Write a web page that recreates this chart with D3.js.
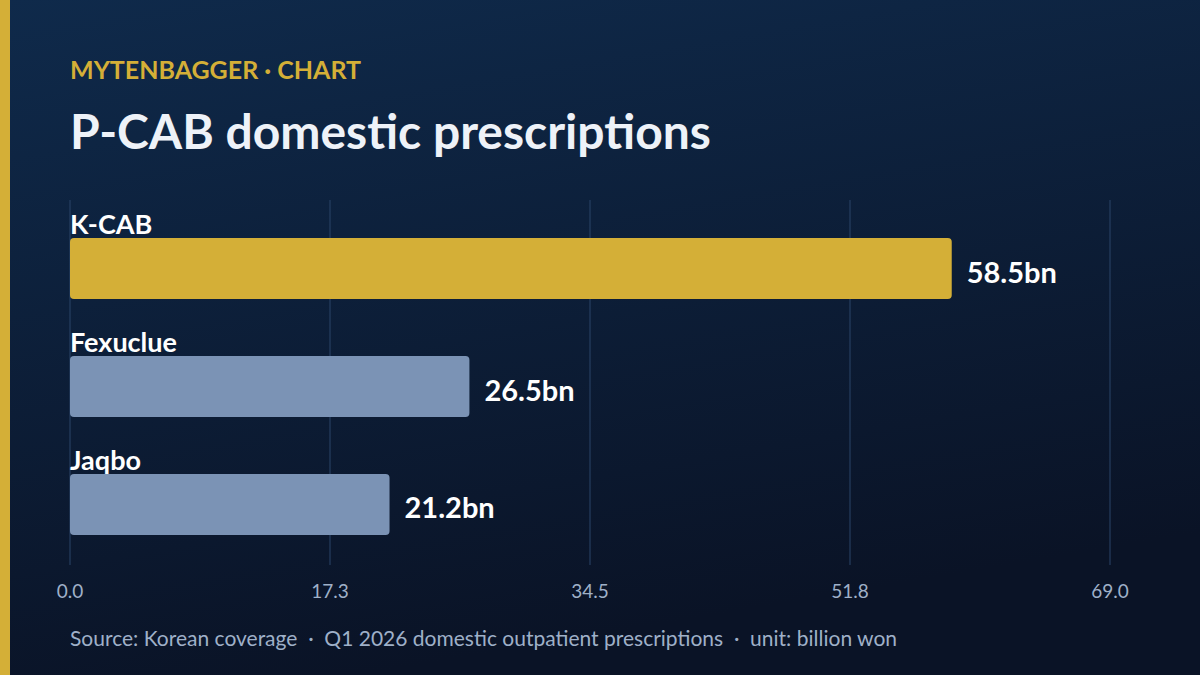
<!DOCTYPE html>
<html><head><meta charset="utf-8">
<script src="https://cdn.jsdelivr.net/npm/d3@7"></script>
<style>body{margin:0;}svg{display:block;font-family:"Source Sans Pro","Lato","Noto Sans",sans-serif;}</style>
</head><body>
<svg id="c" width="1200" height="675"></svg>
<script>
var categories = ['K-CAB', 'Fexuclue', 'Jaqbo'];
var values = [58.5, 26.5, 21.2];
var tickValues = [0, 17.25, 34.5, 51.75, 69];
var tickLabels = ['0.0', '17.3', '34.5', '51.8', '69.0'];

var svg = d3.select('#c');
var defs = svg.append('defs');
var grad = defs.append('linearGradient').attr('id', 'bg').attr('x1', 0).attr('y1', 0).attr('x2', 0.3).attr('y2', 1);
grad.append('stop').attr('offset', '0%').attr('stop-color', '#0f2a4b');
grad.append('stop').attr('offset', '100%').attr('stop-color', '#0a1326');
svg.append('rect').attr('width', 1200).attr('height', 675).attr('fill', 'url(#bg)');
svg.append('rect').attr('width', 10).attr('height', 675).attr('fill', '#d4af37');

svg.append('text').attr('x', 70).attr('y', 79).attr('fill', '#d4af37')
    .attr('font-size', 25).attr('font-weight', 700).text('MYTENBAGGER  ·  CHART');
svg.append('text').attr('x', 70).attr('y', 149).attr('fill', '#eef2f8')
    .attr('font-size', 48).attr('font-weight', 700).text('P-CAB domestic prescriptions');

var x = d3.scaleLinear().domain([0, 69]).range([70, 1110]);
var y = d3.scaleBand().domain(categories).range([179, 594]).paddingInner(0.483).paddingOuter(0.5);

// grid lines
svg.selectAll('.grid').data(tickValues).enter().append('line')
    .attr('x1', d => x(d)).attr('x2', d => x(d)).attr('y1', 200).attr('y2', 565)
    .attr('stroke', '#2b4468').attr('stroke-width', 1);

var g = svg.selectAll('.bar').data(categories).enter().append('g');
g.append('rect')
    .attr('x', x(0)).attr('y', d => y(d))
    .attr('width', (d, i) => x(values[i]) - x(0)).attr('height', y.bandwidth())
    .attr('rx', 4)
    .attr('fill', (d, i) => i === 0 ? '#d4af37' : '#7b93b5');
g.append('text').attr('x', 70).attr('y', d => y(d) - 4)
    .attr('fill', '#ffffff').attr('font-size', 27).attr('font-weight', 700).text(d => d);
g.append('text').attr('x', (d, i) => x(values[i]) + 15).attr('y', d => y(d) + y.bandwidth() / 2 + 14)
    .attr('fill', '#ffffff').attr('font-size', 29).attr('font-weight', 700)
    .text((d, i) => values[i].toFixed(1) + 'bn');

svg.selectAll('.tick').data(tickValues).enter().append('text')
    .attr('x', d => x(d)).attr('y', 598).attr('text-anchor', 'middle')
    .attr('fill', '#9fb0c8').attr('font-size', 19).text((d, i) => tickLabels[i]);

svg.append('text').attr('x', 70).attr('y', 646).attr('fill', '#9fb0c8').attr('font-size', 21)
    .attr('xml:space', 'preserve').style('white-space', 'pre')
    .text('Source: Korean coverage  ·  Q1 2026 domestic outpatient prescriptions  ·  unit: billion won');
</script>
</body></html>
